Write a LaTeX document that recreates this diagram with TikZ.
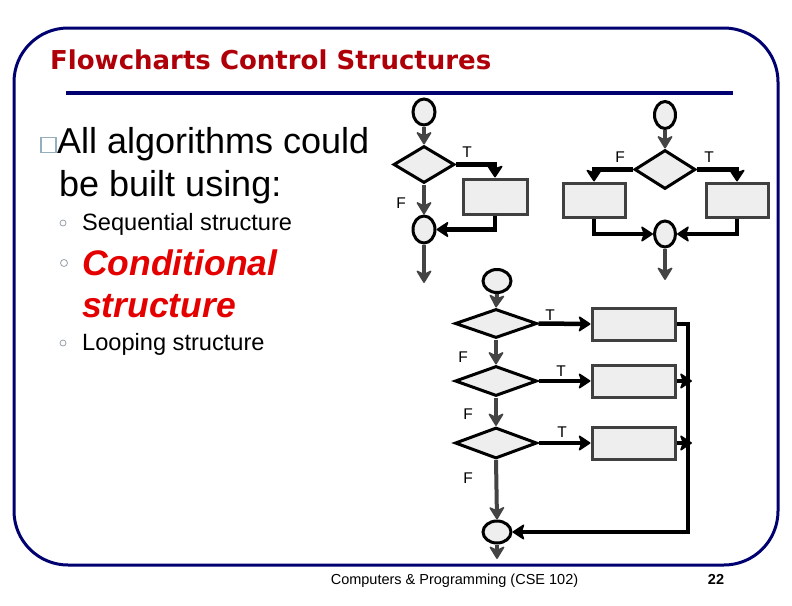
\documentclass[tikz,border=0pt]{standalone}
\usepackage{fontspec}
\setmainfont{Liberation Sans}
\newfontfamily\titlefont{DejaVu Sans}
\usetikzlibrary{shapes.geometric,arrows.meta}
\definecolor{navy}{RGB}{0,0,112}
\definecolor{titlered}{RGB}{175,0,10}
\definecolor{condred}{RGB}{229,0,0}
\definecolor{boxfill}{RGB}{238,238,238}
\definecolor{boxline}{RGB}{64,64,64}
\definecolor{arrowgray}{RGB}{68,68,68}
\definecolor{sqcol}{RGB}{150,175,190}
\definecolor{bulcol}{RGB}{150,160,170}
\begin{document}
\begin{tikzpicture}[x=1pt,y=-1pt,
  oval/.style={ellipse, draw=black, line width=3pt, fill=boxfill, inner sep=0pt},
  dia/.style={diamond, draw=black, line width=3pt, fill=boxfill, inner sep=0pt},
  procbox/.style={rectangle, draw=boxline, line width=3pt, fill=boxfill, inner sep=0pt},
  garrow/.style={draw=arrowgray, line width=4pt, -{Stealth[length=14pt,width=17pt,inset=4pt,line width=1.5pt,round]}},
  barrow/.style={draw=black, line width=4.5pt, -{Stealth[length=13pt,width=17pt,inset=3pt,line width=1.5pt,round]}},
  lbl/.style={font=\fontsize{15.5}{18}\selectfont, inner sep=0pt},
  txt/.style={anchor=base west, inner sep=0pt},
  bul/.style={circle, draw=bulcol, line width=0.8pt, inner sep=0pt}
]
\useasboundingbox (0,0) rectangle (792,605);
\fill[white] (0,0) rectangle (792,605);

% frame
\draw[navy, line width=3pt, rounded corners=54pt] (14,28) rectangle (778,565);
\draw[navy, line width=3.5pt] (66,93) -- (733,93);

% title
\node[txt, text=titlered, font=\titlefont\bfseries\fontsize{26}{30}\selectfont] (title) at (50,69) {Flowcharts Control Structures};

% body text
\node[rectangle, draw=sqcol, line width=1.5pt, minimum width=15pt, minimum height=15pt, inner sep=0pt] (sq) at (48.5,145) {};
\node[txt, font=\fontsize{36}{40}\selectfont] (l1) at (57,153) {All algorithms could};
\node[txt, font=\fontsize{36}{40}\selectfont] (l2) at (59,196) {be built using:};
\node[bul, minimum size=6pt] (b1) at (63,223) {};
\node[txt, font=\fontsize{23.6}{26}\selectfont] (l3) at (82,230) {Sequential structure};
\node[bul, minimum size=7pt] (b2) at (64,263) {};
\node[txt, text=condred, font=\bfseries\itshape\fontsize{35.5}{40}\selectfont] (l4) at (82,275) {Conditional};
\node[txt, text=condred, font=\bfseries\itshape\fontsize{35.5}{40}\selectfont] (l5) at (82,317) {structure};
\node[bul, minimum size=6pt] (b3) at (63,343) {};
\node[txt, font=\fontsize{23.6}{26}\selectfont] (l6) at (82,350) {Looping structure};

% footer
\node[anchor=base, inner sep=0pt, font=\fontsize{14.5}{17}\selectfont] (foot) at (454.5,584) {Computers \& Programming (CSE 102)};
\node[anchor=base, inner sep=0pt, font=\bfseries\fontsize{14.5}{17}\selectfont] (page) at (716,584) {22};

% ---------- flowchart 1 (if) ----------
\node[oval, minimum width=22pt, minimum height=26pt] (o1a) at (424,112) {};
\node[dia, minimum width=61pt, minimum height=37pt] (d1) at (424,164.5) {};
\node[procbox, minimum width=64pt, minimum height=35pt] (p1) at (495,196.5) {};
\node[oval, minimum width=22pt, minimum height=27pt] (o1b) at (424,229.5) {};
\coordinate (e1) at (424,283);
\draw[garrow] (o1a.south) -- (d1.north);
\draw[barrow] (d1.east) -| (p1.north);
\draw[barrow] (p1.south) |- (o1b.east);
\draw[garrow] (d1.south) -- (o1b.north);
\draw[garrow] (o1b.south) -- (e1);
\node[lbl] (t1) at (467,152) {T};
\node[lbl] (f1) at (401,203) {F};

% ---------- flowchart 2 (if-else) ----------
\node[oval, minimum width=21pt, minimum height=27pt] (o2a) at (665,115) {};
\node[dia, minimum width=61pt, minimum height=39pt] (d2) at (665,169.5) {};
\node[procbox, minimum width=62pt, minimum height=34pt] (p2l) at (594,200) {};
\node[procbox, minimum width=62pt, minimum height=34pt] (p2r) at (737,200) {};
\node[oval, minimum width=21pt, minimum height=26pt] (o2b) at (665,234) {};
\coordinate (e2) at (665,280);
\draw[garrow] (o2a.south) -- (d2.north);
\draw[barrow] (d2.west) -| (p2l.north);
\draw[barrow] (d2.east) -| (p2r.north);
\draw[barrow] (p2l.south) |- (o2b.west);
\draw[barrow] (p2r.south) |- (o2b.east);
\draw[garrow] (o2b.south) -- (e2);
\node[lbl] (f2) at (620,157) {F};
\node[lbl] (t2) at (709,157) {T};

% ---------- flowchart 3 (nested) ----------
\node[oval, minimum width=28pt, minimum height=23pt] (o3a) at (497,281) {};
\node[dia, minimum width=82pt, minimum height=29pt] (d3a) at (496,323.5) {};
\node[dia, minimum width=82pt, minimum height=30pt] (d3b) at (496,381) {};
\node[dia, minimum width=82pt, minimum height=31pt] (d3c) at (496,443) {};
\node[procbox, minimum width=83pt, minimum height=32pt] (p3a) at (633.5,324) {};
\node[procbox, minimum width=83pt, minimum height=32pt] (p3b) at (633.5,381) {};
\node[procbox, minimum width=83pt, minimum height=32pt] (p3c) at (633.5,443) {};
\node[oval, minimum width=28pt, minimum height=22pt] (o3b) at (497,532) {};
\coordinate (c3) at (688,532);
\coordinate (r3b) at (692,381);
\coordinate (r3c) at (692,443);
\coordinate (e3) at (497,559);
\draw[garrow] (o3a.south) -- (d3a.north);
\draw[barrow] (d3a.east) -- (p3a.west);
\draw[garrow] (d3a.south) -- (d3b.north);
\draw[barrow] (d3b.east) -- (p3b.west);
\draw[garrow] (d3b.south) -- (d3c.north);
\draw[barrow] (d3c.east) -- (p3c.west);
\draw[barrow] (p3a.east) -| (c3) -- (o3b.east);
\draw[barrow] (p3b.east) -- (r3b);
\draw[barrow] (p3c.east) -- (r3c);
\draw[garrow] (d3c.south) -- (o3b.north);
\draw[garrow] (o3b.south) -- (e3);
\node[lbl] (t3a) at (550,315) {T};
\node[lbl] (f3a) at (463,357) {F};
\node[lbl] (t3b) at (561,371) {T};
\node[lbl] (f3b) at (468,414) {F};
\node[lbl] (t3c) at (562,432) {T};
\node[lbl] (f3c) at (468,478) {F};
\end{tikzpicture}
\end{document}
